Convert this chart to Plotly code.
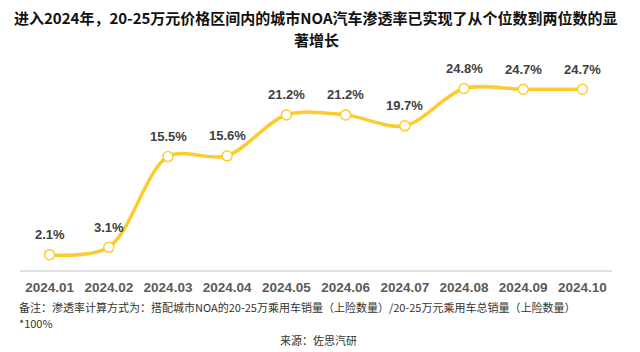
import plotly.graph_objects as go

months = ["2024.01", "2024.02", "2024.03", "2024.04", "2024.05",
          "2024.06", "2024.07", "2024.08", "2024.09", "2024.10"]
penetration = [2.1, 3.1, 15.5, 15.6, 21.2, 21.2, 19.7, 24.8, 24.7, 24.7]
title_line1 = "进入2024年，20-25万元价格区间内的城市NOA汽车渗透率已实现了从个位数到两位数的显"
title_line2 = "著增长"
note_line1 = "备注：渗透率计算方式为：搭配城市NOA的20-25万乘用车销量（上险数量）/20-25万元乘用车总销量（上险数量）"
note_line2 = "*100%"
source_text = "来源：佐思汽研"

W, H = 640, 352
ML, MR, MT, MB = 20, 28, 60, 82
PH = H - MT - MB
PW = W - ML - MR


def py(p):
    return (H - MB - p) / PH


def px(p):
    return (p - ML) / PW


LINE = "#FDCB2E"
CJK = "Noto Sans CJK SC, Microsoft YaHei, sans-serif"

fig = go.Figure()
fig.add_trace(go.Scatter(
    x=months, y=penetration, mode="lines+markers",
    line=dict(color=LINE, width=3.5, shape="spline", smoothing=0.9),
    marker=dict(size=10, color="white", line=dict(color=LINE, width=1.5)),
    hoverinfo="skip", showlegend=False,
))

annotations = []
for i, v in enumerate(penetration):
    annotations.append(dict(
        x=i, y=v, xref="x", yref="y", text=f"{v:.1f}%", showarrow=False,
        yshift=20, font=dict(family="Liberation Sans, Arial, sans-serif", size=13,
                             color="#404040", weight="bold"),
    ))

annotations += [
    dict(x=0.5, y=py(17), xref="paper", yref="paper", text=title_line1, showarrow=False,
         xanchor="center", yanchor="middle",
         font=dict(family=CJK, size=15, color="#111111", weight="bold")),
    dict(x=0.5, y=py(40), xref="paper", yref="paper", text=title_line2, showarrow=False,
         xanchor="center", yanchor="middle",
         font=dict(family=CJK, size=15, color="#111111", weight="bold")),
    dict(x=px(17), y=py(307), xref="paper", yref="paper", text=note_line1, showarrow=False,
         xanchor="left", yanchor="middle",
         font=dict(family=CJK, size=11, color="#333333")),
    dict(x=px(17), y=py(323), xref="paper", yref="paper", text=note_line2, showarrow=False,
         xanchor="left", yanchor="middle",
         font=dict(family=CJK, size=11, color="#333333")),
    dict(x=px(318), y=py(340), xref="paper", yref="paper", text=source_text, showarrow=False,
         xanchor="center", yanchor="middle",
         font=dict(family=CJK, size=11, color="#333333")),
]

fig.update_layout(
    width=W, height=H,
    margin=dict(l=ML, r=MR, t=MT, b=MB, pad=0),
    paper_bgcolor="white", plot_bgcolor="white",
    annotations=annotations,
    xaxis=dict(
        type="category", range=[-0.5, len(months) - 0.5],
        showgrid=False, zeroline=False,
        showline=True, linecolor="#e2e2e2", linewidth=2,
        ticks="", ticklen=0, ticklabelstandoff=4,
        tickfont=dict(family="Liberation Sans, Arial, sans-serif", size=13.5,
                      color="#5a5a5a", weight="bold"),
        fixedrange=True,
    ),
    yaxis=dict(range=[0, 28.7], visible=False, fixedrange=True),
)

fig.write_html("out.html", config={"displayModeBar": False})
